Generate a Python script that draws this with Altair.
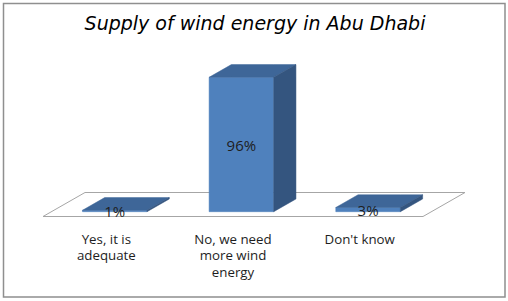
import altair as alt
import pandas as pd

# ---- data -------------------------------------------------------------
title_text = "Supply of wind energy in Abu Dhabi"
categories = ["Yes, it is\nadequate", "No, we need\nmore wind\nenergy", "Don't know"]
shares = [1, 96, 3]

# ---- oblique projection of the 3-D column chart -------------------------
W, H = 508, 301
X_PX = 126.67          # pixels per category slot
Y_PX = 1.40            # pixels per percentage point
FLOOR_LEFT_PX = 43     # front-left corner of the floor
FLOOR_FRONT_PX = 216.5 # front edge of the floor
DEPTH_X = 42 / X_PX    # horizontal shift for the full floor depth (slot units)
DEPTH_Y = 24 / Y_PX    # vertical shift for the full floor depth (percent units)
BAR_D0, BAR_D1 = 0.20, 0.73   # depth span occupied by the columns
BAR_W = 0.51                  # column width (slot units)

FRONT = "#4F81BD"
TOP = "#3E6698"
SIDE = "#34557F"

xs = alt.Scale(domain=[-FLOOR_LEFT_PX / X_PX, (W - FLOOR_LEFT_PX) / X_PX], nice=False, zero=False)
ys = alt.Scale(domain=[-(H - FLOOR_FRONT_PX) / Y_PX, FLOOR_FRONT_PX / Y_PX], nice=False, zero=False)

n = len(categories)
ddx = (BAR_D1 - BAR_D0) * DEPTH_X
ddy = (BAR_D1 - BAR_D0) * DEPTH_Y

front_rows, face_rows, label_rows = [], [], []
for i, (cat, v) in enumerate(zip(categories, shares)):
    xl = i + 0.5 - BAR_W / 2 + BAR_D0 * DEPTH_X
    xr = xl + BAR_W
    yb = BAR_D0 * DEPTH_Y
    yt = v + yb
    front_rows.append({"cat": cat, "x": xl, "x2": xr, "y": yb, "y2": yt})
    # top face as a band over x
    for x, lo, hi in [(xl, yt, yt), (xl + ddx, yt, yt + ddy), (xr, yt, yt + ddy), (xr + ddx, yt + ddy, yt + ddy)]:
        face_rows.append({"key": f"{i}-top", "face": "top", "x": x, "y": lo, "y2": hi})
    # right side face
    for x, lo, hi in [(xr, yb, yt), (xr + ddx, yb + ddy, yt + ddy)]:
        face_rows.append({"key": f"{i}-side", "face": "side", "x": x, "y": lo, "y2": hi})
    label_rows.append({"x": (xl + xr) / 2, "y": yb + v / 2, "text": f"{v}%"})

front_df = pd.DataFrame(front_rows)
faces_df = pd.DataFrame(face_rows)
labels_df = pd.DataFrame(label_rows)
floor_df = pd.DataFrame({
    "order": [0, 1, 2, 3, 4],
    "x": [0, n, n + DEPTH_X, DEPTH_X, 0],
    "y": [0, 0, DEPTH_Y, DEPTH_Y, 0],
})
cat_df = pd.DataFrame({"x": [i + 0.5 for i in range(n)], "y": [0] * n, "cat": categories})

frame = alt.Chart(pd.DataFrame({"t": [0]})).mark_rect(
    fill="white", stroke="#8f8f8f", strokeWidth=1.5
).encode(x=alt.value(3.5), x2=alt.value(505), y=alt.value(3.5), y2=alt.value(297))

title = alt.Chart(pd.DataFrame({"t": [title_text]})).mark_text(
    font="DejaVu Sans", fontSize=19, fontStyle="italic", color="#000000",
    align="center", baseline="alphabetic"
).encode(x=alt.value(255), y=alt.value(29.5), text="t:N")

floor = alt.Chart(floor_df).mark_line(color="#a6a6a6", strokeWidth=1).encode(
    x=alt.X("x:Q", scale=xs, axis=None),
    y=alt.Y("y:Q", scale=ys, axis=None),
    order="order:Q",
)

fronts = alt.Chart(front_df).mark_rect(color=FRONT, stroke=FRONT, strokeWidth=0.5).encode(
    x=alt.X("x:Q", scale=xs, axis=None), x2="x2:Q",
    y=alt.Y("y:Q", scale=ys, axis=None), y2="y2:Q",
)

face_scale = alt.Scale(domain=["top", "side"], range=[TOP, SIDE])
faces = alt.Chart(faces_df).mark_area(strokeWidth=0.5).encode(
    x=alt.X("x:Q", scale=xs, axis=None),
    y=alt.Y("y:Q", scale=ys, axis=None), y2="y2:Q",
    color=alt.Color("face:N", scale=face_scale, legend=None),
    stroke=alt.Stroke("face:N", scale=face_scale, legend=None),
    detail="key:N",
)

values = alt.Chart(labels_df).mark_text(
    font="Open Sans", fontSize=15, color="#1e1e1e", baseline="middle", dy=1
).encode(
    x=alt.X("x:Q", scale=xs, axis=None),
    y=alt.Y("y:Q", scale=ys, axis=None),
    text="text:N",
)

cat_labels = alt.Chart(cat_df).mark_text(
    font="Open Sans", fontSize=13.3, color="#1e1e1e", baseline="top",
    dy=16.5, lineBreak="\n", lineHeight=16.3
).encode(
    x=alt.X("x:Q", scale=xs, axis=None),
    y=alt.Y("y:Q", scale=ys, axis=None),
    text="cat:N",
)

chart = alt.layer(frame, title, floor, fronts, faces, values, cat_labels).properties(
    width=W, height=H, autosize="none", padding=0, background="white"
).configure_view(stroke=None)

chart.save("out.html", embed_options={"renderer": "svg", "actions": False})
